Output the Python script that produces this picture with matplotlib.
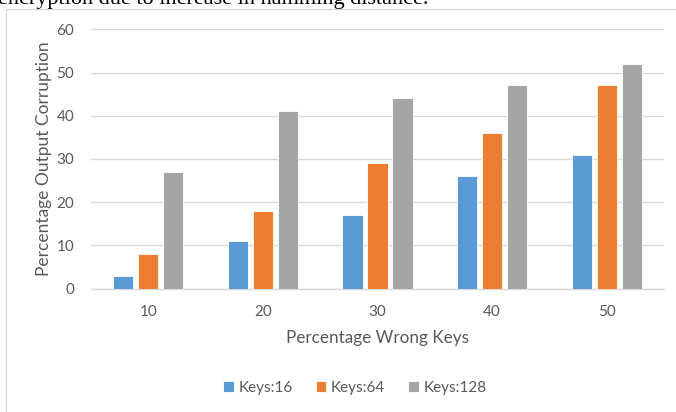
import numpy as np
import matplotlib
matplotlib.use('Agg')
import matplotlib.pyplot as plt
from matplotlib.patches import Rectangle

# data
categories = ['10', '20', '30', '40', '50']
keys_16 = [3, 11, 17, 26, 31]
keys_64 = [8, 18, 29, 36, 47]
keys_128 = [27, 41, 44, 47, 52]
series_names = ['Keys:16', 'Keys:64', 'Keys:128']
colors = ['#5B9BD5', '#ED7D31', '#A5A5A5']

text_col = '#595959'
grid_col = '#D9D9D9'

plt.rcParams['font.family'] = ['Lato', 'DejaVu Sans']

fig = plt.figure(figsize=(6.76, 4.12), dpi=100)

# frame of the embedded chart (cropped on right and bottom)
fig.patches.append(Rectangle((6 / 676, -0.1), 1.0, 1 - 9 / 412 + 0.1,
                             transform=fig.transFigure, fill=False,
                             edgecolor='#D9D9D9', linewidth=1.0))

# cropped caption text above the chart
fig.text(-0.003, 1 - 4 / 412, 'encryption due to increase in hamming distance.',
         family='Liberation Serif', fontsize=16, color='black',
         ha='left', va='baseline')

ax = fig.add_axes([91 / 676, 1 - 288.5 / 412, (664 - 91) / 676, (288.5 - 29.3) / 412])

x = np.arange(len(categories))
w = 0.175
step = 0.218
for i, (vals, name, c) in enumerate(zip([keys_16, keys_64, keys_128], series_names, colors)):
    ax.bar(x + (i - 1) * step, vals, width=w, color=c, label=name,
           edgecolor='white', linewidth=0.6, zorder=3)

ax.set_xlim(-0.5, len(categories) - 0.5)
ax.set_ylim(0, 60)
ax.set_yticks(range(0, 61, 10))
ax.set_xticks(x)
ax.set_xticklabels(categories)

ax.yaxis.grid(True, color=grid_col, linewidth=1.0, zorder=0)
for s in ['top', 'right', 'left']:
    ax.spines[s].set_visible(False)
ax.spines['bottom'].set_color(grid_col)
ax.spines['bottom'].set_linewidth(1.0)
ax.tick_params(length=0, colors=text_col, labelsize=11)
ax.tick_params(axis='y', pad=12)
ax.tick_params(axis='x', pad=12)

ax.set_xlabel('Percentage Wrong Keys', color=text_col, fontsize=12.3, labelpad=8)
ax.set_ylabel('Percentage Output Corruption', color=text_col, fontsize=12.5, labelpad=3)

leg = fig.legend(loc='center', bbox_to_anchor=(355 / 676, 1 - 388 / 412), ncol=3,
                 frameon=False, fontsize=11, handlelength=0.7, handleheight=0.7,
                 handletextpad=0.3, columnspacing=1.5)
for t in leg.get_texts():
    t.set_color(text_col)

fig.savefig('out.png', dpi=100)
